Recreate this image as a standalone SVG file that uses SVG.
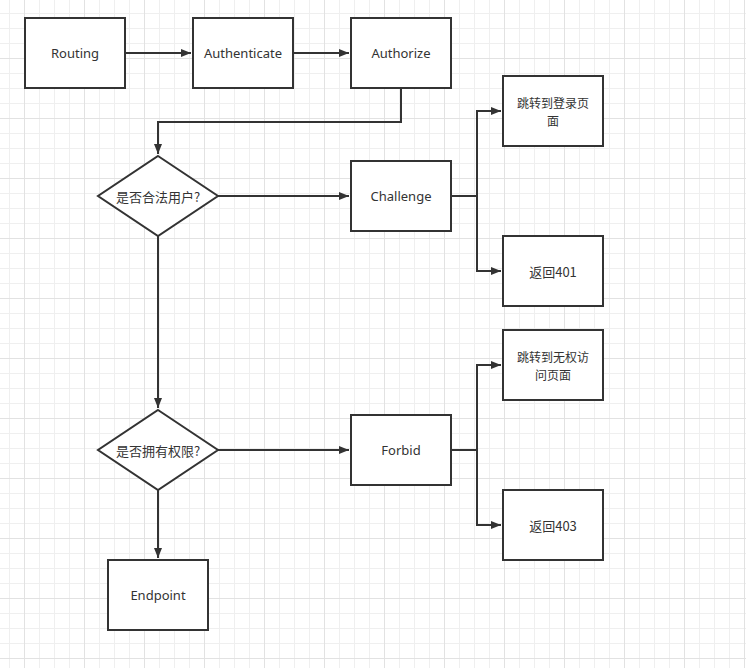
<svg xmlns="http://www.w3.org/2000/svg" width="746" height="668" viewBox="0 0 746 668">
<defs>
<pattern id="minor" width="15" height="15" patternUnits="userSpaceOnUse" x="9" y="13">
<path d="M0.5 0V15M0 0.5H15" fill="none" stroke="#efefef" stroke-width="1"/>
</pattern>
<pattern id="major" width="60" height="60" patternUnits="userSpaceOnUse" x="24" y="58">
<path d="M0.5 0V60M0 0.5H60" fill="none" stroke="#e2e2e2" stroke-width="1"/>
</pattern>
<marker id="arr" markerWidth="10" markerHeight="8" refX="10" refY="4" orient="auto" markerUnits="userSpaceOnUse">
<path d="M0 0L10 4L0 8Z" fill="#333"/>
</marker>
</defs>
<style>
.box{fill:#fff;stroke:#333;stroke-width:2}
.lbl{font-family:"Noto Sans","Noto Sans CJK SC",sans-serif;font-size:13px;fill:#333;text-anchor:middle;dominant-baseline:central}
.cn{font-family:"Noto Sans CJK SC","Noto Sans",sans-serif;font-size:13px;fill:#333;text-anchor:middle;dominant-baseline:central}
.cn2{font-family:"Noto Sans CJK SC","Noto Sans",sans-serif;font-size:12px;fill:#333;text-anchor:middle;dominant-baseline:central}
.edge{fill:none;stroke:#333;stroke-width:2}
</style>
<rect width="746" height="668" fill="#fff"/>
<rect width="746" height="668" fill="url(#minor)"/>
<rect width="746" height="668" fill="url(#major)"/>
<g id="connectors">
<path class="edge" d="M125 53H191" marker-end="url(#arr)"/>
<path class="edge" d="M293 53H349" marker-end="url(#arr)"/>
<path class="edge" d="M401 88V122H158V154" marker-end="url(#arr)"/>
<path class="edge" d="M218 196H349" marker-end="url(#arr)"/>
<path class="edge" d="M451 196H477V111H501" marker-end="url(#arr)"/>
<path class="edge" d="M477 196V271H501" marker-end="url(#arr)"/>
<path class="edge" d="M158 236V408" marker-end="url(#arr)"/>
<path class="edge" d="M218 450H349" marker-end="url(#arr)"/>
<path class="edge" d="M451 450H477V365H501" marker-end="url(#arr)"/>
<path class="edge" d="M477 450V525H501" marker-end="url(#arr)"/>
<path class="edge" d="M158 490V558" marker-end="url(#arr)"/>
</g>
<g id="routing"><rect class="box" x="25" y="18" width="100" height="70"/><text class="lbl" x="75" y="53">Routing</text></g>
<g id="authenticate"><rect class="box" x="193" y="18" width="100" height="70"/><text class="lbl" x="243" y="53">Authenticate</text></g>
<g id="authorize"><rect class="box" x="351" y="18" width="100" height="70"/><text class="lbl" x="401" y="53">Authorize</text></g>
<g id="is-valid-user"><path class="box" d="M158 156L218 196L158 236L98 196Z"/><text class="cn" x="158" y="196">是否合法用户?</text></g>
<g id="challenge"><rect class="box" x="351" y="161" width="100" height="70"/><text class="lbl" x="401" y="196">Challenge</text></g>
<g id="login-page"><rect class="box" x="503" y="76" width="100" height="70"/><text class="cn2" x="553" y="102.5">跳转到登录页<tspan x="553" dy="17.5">面</tspan></text></g>
<g id="return-401"><rect class="box" x="503" y="236" width="100" height="70"/><text class="cn" x="553" y="271">返回401</text></g>
<g id="has-permission"><path class="box" d="M158 410L218 450L158 490L98 450Z"/><text class="cn" x="158" y="450">是否拥有权限?</text></g>
<g id="forbid"><rect class="box" x="351" y="415" width="100" height="70"/><text class="lbl" x="401" y="450">Forbid</text></g>
<g id="no-access-page"><rect class="box" x="503" y="330" width="100" height="70"/><text class="cn2" x="553" y="356.5">跳转到无权访<tspan x="553" dy="17.5">问页面</tspan></text></g>
<g id="return-403"><rect class="box" x="503" y="490" width="100" height="70"/><text class="cn" x="553" y="525">返回403</text></g>
<g id="endpoint"><rect class="box" x="108" y="560" width="100" height="70"/><text class="lbl" x="158" y="595">Endpoint</text></g>
</svg>
